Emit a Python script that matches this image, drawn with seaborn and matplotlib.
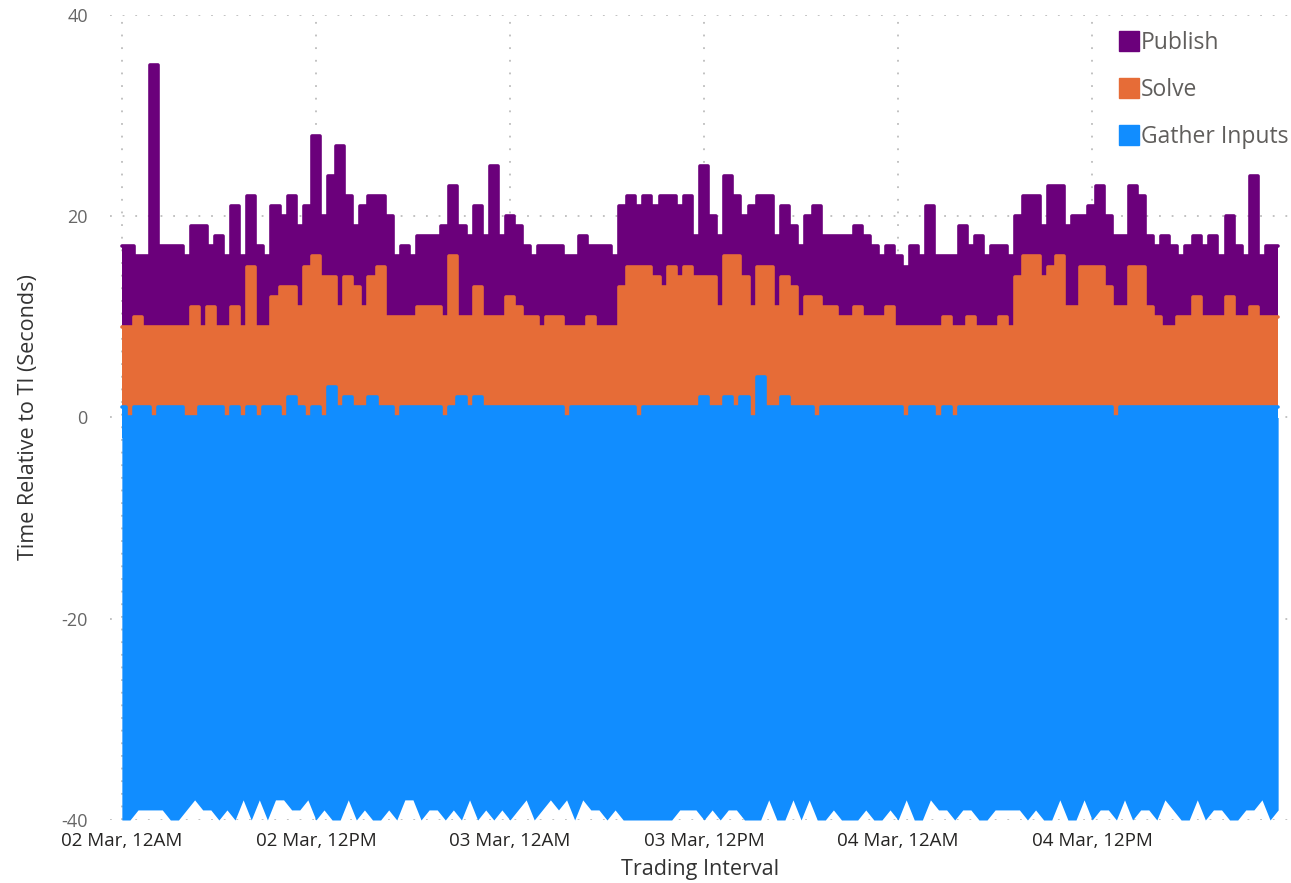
import numpy as np
import pandas as pd
import matplotlib
matplotlib.use("Agg")
import matplotlib.pyplot as plt
from matplotlib.lines import Line2D
import seaborn as sns

# ---------------- data (30-minute trading intervals, 02 Mar 00:00 -> 04 Mar 23:30) ----------------
series_names = ["Publish", "Solve", "Gather Inputs"]

gather_start = [
    -40, -40, -39, -39, -39, -39, -40, -40, -39, -38, -39, -39, -40, -39, -40, -38, -40, -38, -40, -38, -38, -39, -39, -38,
    -40, -39, -40, -40, -38, -40, -39, -40, -40, -39, -40, -38, -38, -40, -39, -39, -40, -39, -40, -38, -40, -39, -40, -39,
    -40, -39, -38, -40, -39, -38, -39, -38, -40, -38, -39, -39, -40, -39, -40, -40, -40, -40, -40, -40, -40, -39, -39, -39,
    -40, -39, -40, -39, -39, -40, -40, -40, -38, -40, -40, -38, -40, -38, -40, -40, -39, -40, -40, -40, -39, -40, -40, -39,
    -40, -38, -40, -40, -38, -39, -39, -40, -39, -39, -40, -40, -39, -39, -39, -39, -40, -39, -40, -40, -38, -40, -40, -38,
    -40, -39, -39, -40, -38, -40, -39, -39, -40, -38, -39, -40, -40, -38, -40, -39, -39, -40, -40, -39, -39, -38, -40, -39,
]

gather_end = [
    1, 0, 1, 1, 0, 1, 1, 1, 0, 0, 1, 1, 1, 0, 1, 0, 1, 0, 1, 1, 0, 2, 1, 0,
    1, 0, 3, 1, 2, 1, 1, 2, 1, 1, 0, 1, 1, 1, 1, 1, 0, 1, 2, 1, 2, 1, 1, 1,
    1, 1, 1, 1, 1, 1, 1, 0, 1, 1, 1, 1, 1, 1, 1, 1, 0, 1, 1, 1, 1, 1, 1, 1,
    2, 1, 1, 2, 1, 2, 0, 4, 1, 1, 2, 1, 1, 1, 0, 1, 1, 1, 1, 1, 1, 1, 1, 1,
    1, 0, 1, 1, 1, 0, 1, 0, 1, 1, 1, 1, 1, 1, 1, 1, 1, 1, 1, 1, 1, 1, 1, 1,
    1, 1, 1, 0, 1, 1, 1, 1, 1, 1, 1, 1, 1, 1, 1, 1, 1, 1, 1, 1, 1, 1, 1, 1,
]

solve_end = [
    9, 9, 10, 9, 9, 9, 9, 9, 9, 11, 9, 11, 9, 9, 11, 9, 15, 9, 9, 12, 13, 13, 11, 15,
    16, 14, 14, 11, 14, 13, 11, 14, 15, 10, 10, 10, 10, 11, 11, 11, 10, 16, 10, 10, 13, 10, 10, 10,
    12, 11, 10, 10, 9, 10, 10, 9, 9, 9, 10, 9, 9, 9, 13, 15, 15, 15, 14, 13, 15, 14, 15, 14,
    14, 14, 11, 16, 16, 14, 11, 15, 15, 11, 14, 13, 10, 12, 12, 11, 11, 10, 10, 11, 10, 10, 10, 11,
    9, 9, 9, 9, 9, 9, 10, 9, 9, 10, 9, 9, 9, 10, 9, 14, 16, 16, 14, 15, 16, 11, 11, 15,
    15, 15, 13, 11, 11, 15, 15, 11, 10, 9, 9, 10, 10, 12, 10, 10, 10, 12, 10, 10, 11, 10, 10, 10,
]

publish_end = [
    17, 17, 16, 16, 35, 17, 17, 17, 16, 19, 19, 17, 18, 16, 21, 16, 22, 17, 16, 21, 20, 22, 19, 21,
    28, 20, 24, 27, 22, 19, 21, 22, 22, 20, 16, 17, 16, 18, 18, 18, 19, 23, 19, 18, 21, 18, 25, 18,
    20, 19, 17, 16, 17, 17, 17, 16, 16, 18, 17, 17, 17, 16, 21, 22, 21, 22, 21, 22, 22, 21, 22, 18,
    25, 20, 18, 24, 22, 20, 21, 22, 22, 18, 21, 19, 17, 20, 21, 18, 18, 18, 18, 19, 18, 17, 16, 17,
    16, 15, 17, 16, 21, 16, 16, 16, 19, 17, 18, 16, 17, 17, 16, 20, 22, 22, 19, 23, 23, 19, 20, 20,
    21, 23, 20, 18, 18, 23, 22, 18, 17, 18, 17, 16, 17, 18, 17, 18, 16, 20, 17, 16, 24, 16, 17, 17,
]

x_tick_labels = ["02 Mar, 12AM", "02 Mar, 12PM", "03 Mar, 12AM",
                 "03 Mar, 12PM", "04 Mar, 12AM", "04 Mar, 12PM"]
y_ticks = [-40, -20, 0, 20, 40]

colors = {"Publish": "#6B007B", "Solve": "#E66C37", "Gather Inputs": "#118DFF"}

# ---------------- frame ----------------
times = pd.date_range("2020-03-02 00:00", periods=len(publish_end), freq="30min")
df = pd.DataFrame({
    "time": times,
    "gather_start": gather_start,
    "gather_end": gather_end,
    "solve_end": solve_end,
    "publish_end": publish_end,
})

sns.set_theme(style="white")
plt.rcParams["font.family"] = ["Open Sans", "DejaVu Sans"]

fig = plt.figure(figsize=(12.91, 8.83), dpi=100)
ax = fig.add_axes([110 / 1291, 1 - 820 / 883, (1290 - 110) / 1291, (820 - 15) / 883])

lw = 2.6
# Publish band
ax.fill_between(df["time"], 0, df["publish_end"], step="mid", color=colors["Publish"],
                linewidth=0, zorder=2)
sns.lineplot(data=df, x="time", y="publish_end", ax=ax, color=colors["Publish"],
             linewidth=lw, zorder=2.1, estimator=None, drawstyle="steps-mid",
             solid_joinstyle="round")
# Solve band
ax.fill_between(df["time"], -1, df["solve_end"], step="mid", color=colors["Solve"],
                linewidth=0, zorder=3)
sns.lineplot(data=df, x="time", y="solve_end", ax=ax, color=colors["Solve"],
             linewidth=lw, zorder=3.1, estimator=None, drawstyle="steps-mid",
             solid_joinstyle="round")
# Gather Inputs band (lower edge linear, upper edge stepped)
ax.fill_between(df["time"], df["gather_start"], 0, color=colors["Gather Inputs"],
                linewidth=0, zorder=4)
ax.fill_between(df["time"], -2, df["gather_end"], step="mid", color=colors["Gather Inputs"],
                linewidth=0, zorder=4)
sns.lineplot(data=df, x="time", y="gather_end", ax=ax, color=colors["Gather Inputs"],
             linewidth=lw, zorder=4.1, estimator=None, drawstyle="steps-mid",
             solid_joinstyle="round")

# ---------------- axes ----------------
t0 = pd.Timestamp("2020-03-02 00:00")
ax.set_xlim(t0 - pd.Timedelta(minutes=44), t0 + pd.Timedelta(hours=72, minutes=14))
ax.set_ylim(-40, 40)
tick_pos = pd.date_range(t0, periods=len(x_tick_labels), freq="12h")
ax.set_xticks(tick_pos)
ax.set_xticklabels(x_tick_labels, fontsize=13.5, color="#252423")
ax.set_yticks(y_ticks)
ax.set_yticklabels([str(v) for v in y_ticks], fontsize=13, color="#666666")
ax.tick_params(axis="x", length=0, pad=9)
ax.tick_params(axis="y", length=0, pad=16)

ax.grid(True, which="major", axis="both", color="#BDBDBD", linestyle=(0, (1, 6)), linewidth=1.3)
ax.set_axisbelow(True)
for s in ax.spines.values():
    s.set_visible(False)

ax.set_xlabel("Trading Interval", fontsize=15.5, color="#333333", labelpad=6)
ax.set_ylabel("Time Relative to TI (Seconds)", fontsize=15.5, color="#333333", labelpad=16)

handles = [Line2D([0], [0], marker="s", linestyle="none", markersize=15,
                  markerfacecolor=colors[n], markeredgecolor=colors[n]) for n in series_names]
leg = fig.legend(handles, series_names, loc="upper left", bbox_to_anchor=(1108 / 1291, 1 - 22 / 883),
                 frameon=False, fontsize=16.5, labelspacing=1.0, handletextpad=0.05,
                 handlelength=1.0, borderaxespad=0)
for t in leg.get_texts():
    t.set_color("#605E5C")

fig.savefig("out.png", dpi=100)
